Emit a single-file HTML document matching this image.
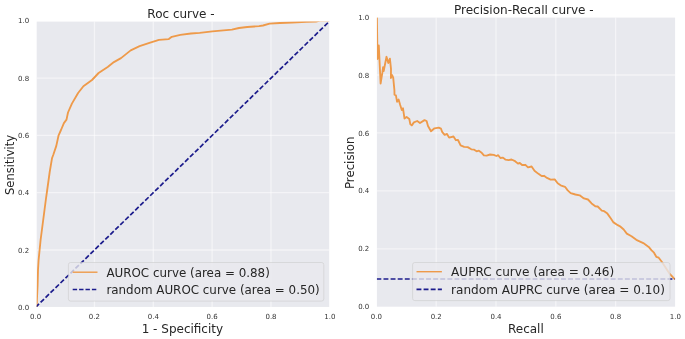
<!DOCTYPE html>
<html><head><meta charset="utf-8"><title>ROC and Precision-Recall curves</title>
<style>html,body{margin:0;padding:0;background:#fff}svg{display:block;filter:blur(0.45px)}</style></head>
<body>
<svg width="685" height="339" viewBox="0 0 685 339" font-family="'DejaVu Sans', 'Liberation Sans', sans-serif" fill="#262626">
<rect width="685" height="339" fill="#fff"/>
<defs>
<clipPath id="cl"><rect x="36.7" y="21.6" width="292.50" height="285.35"/></clipPath>
<clipPath id="cr"><rect x="376.9" y="17.6" width="298.20" height="289.10"/></clipPath>
</defs>
<rect x="36.7" y="21.6" width="292.50" height="285.35" fill="#e8e9ee"/>
<text x="35.6" y="319.2" font-size="7" fill="#333333" text-anchor="middle">0.0</text>
<text x="29.2" y="309.8" font-size="7" fill="#333333" text-anchor="end">0.0</text>
<line x1="94.44" x2="94.44" y1="21.6" y2="306.95" stroke="#fff" stroke-opacity="0.5" stroke-width="1.3"/>
<line x1="36.7" x2="329.2" y1="249.98" y2="249.98" stroke="#fff" stroke-opacity="0.5" stroke-width="1.3"/>
<text x="94.4" y="319.2" font-size="7" fill="#333333" text-anchor="middle">0.2</text>
<text x="29.2" y="252.5" font-size="7" fill="#333333" text-anchor="end">0.2</text>
<line x1="153.28" x2="153.28" y1="21.6" y2="306.95" stroke="#fff" stroke-opacity="0.5" stroke-width="1.3"/>
<line x1="36.7" x2="329.2" y1="192.71" y2="192.71" stroke="#fff" stroke-opacity="0.5" stroke-width="1.3"/>
<text x="153.3" y="319.2" font-size="7" fill="#333333" text-anchor="middle">0.4</text>
<text x="29.2" y="195.2" font-size="7" fill="#333333" text-anchor="end">0.4</text>
<line x1="212.12" x2="212.12" y1="21.6" y2="306.95" stroke="#fff" stroke-opacity="0.5" stroke-width="1.3"/>
<line x1="36.7" x2="329.2" y1="135.44" y2="135.44" stroke="#fff" stroke-opacity="0.5" stroke-width="1.3"/>
<text x="212.1" y="319.2" font-size="7" fill="#333333" text-anchor="middle">0.6</text>
<text x="29.2" y="137.9" font-size="7" fill="#333333" text-anchor="end">0.6</text>
<line x1="270.96" x2="270.96" y1="21.6" y2="306.95" stroke="#fff" stroke-opacity="0.5" stroke-width="1.3"/>
<line x1="36.7" x2="329.2" y1="78.17" y2="78.17" stroke="#fff" stroke-opacity="0.5" stroke-width="1.3"/>
<text x="271.0" y="319.2" font-size="7" fill="#333333" text-anchor="middle">0.8</text>
<text x="29.2" y="80.7" font-size="7" fill="#333333" text-anchor="end">0.8</text>
<text x="329.8" y="319.2" font-size="7" fill="#333333" text-anchor="middle">1.0</text>
<text x="29.2" y="23.4" font-size="7" fill="#333333" text-anchor="end">1.0</text>
<rect x="376.9" y="17.6" width="298.20" height="289.10" fill="#e8e9ee"/>
<text x="376.4" y="319.2" font-size="7" fill="#333333" text-anchor="middle">0.0</text>
<text x="369.3" y="309.4" font-size="7" fill="#333333" text-anchor="end">0.0</text>
<line x1="436.20" x2="436.20" y1="17.6" y2="306.7" stroke="#fff" stroke-opacity="0.5" stroke-width="1.3"/>
<line x1="376.9" x2="675.1" y1="248.92" y2="248.92" stroke="#fff" stroke-opacity="0.5" stroke-width="1.3"/>
<text x="436.2" y="319.2" font-size="7" fill="#333333" text-anchor="middle">0.2</text>
<text x="369.3" y="251.4" font-size="7" fill="#333333" text-anchor="end">0.2</text>
<line x1="496.00" x2="496.00" y1="17.6" y2="306.7" stroke="#fff" stroke-opacity="0.5" stroke-width="1.3"/>
<line x1="376.9" x2="675.1" y1="190.94" y2="190.94" stroke="#fff" stroke-opacity="0.5" stroke-width="1.3"/>
<text x="496.0" y="319.2" font-size="7" fill="#333333" text-anchor="middle">0.4</text>
<text x="369.3" y="193.4" font-size="7" fill="#333333" text-anchor="end">0.4</text>
<line x1="555.80" x2="555.80" y1="17.6" y2="306.7" stroke="#fff" stroke-opacity="0.5" stroke-width="1.3"/>
<line x1="376.9" x2="675.1" y1="132.96" y2="132.96" stroke="#fff" stroke-opacity="0.5" stroke-width="1.3"/>
<text x="555.8" y="319.2" font-size="7" fill="#333333" text-anchor="middle">0.6</text>
<text x="369.3" y="135.5" font-size="7" fill="#333333" text-anchor="end">0.6</text>
<line x1="615.60" x2="615.60" y1="17.6" y2="306.7" stroke="#fff" stroke-opacity="0.5" stroke-width="1.3"/>
<line x1="376.9" x2="675.1" y1="74.98" y2="74.98" stroke="#fff" stroke-opacity="0.5" stroke-width="1.3"/>
<text x="615.6" y="319.2" font-size="7" fill="#333333" text-anchor="middle">0.8</text>
<text x="369.3" y="77.5" font-size="7" fill="#333333" text-anchor="end">0.8</text>
<text x="675.4" y="319.2" font-size="7" fill="#333333" text-anchor="middle">1.0</text>
<text x="369.3" y="19.5" font-size="7" fill="#333333" text-anchor="end">1.0</text>
<g clip-path="url(#cl)" fill="none">
<polyline points="36.7,307.3 36.9,300.0 37.6,285.0 38.0,270.0 38.6,260.0 39.6,250.0 40.6,240.0 41.9,230.0 43.2,220.0 44.5,210.0 45.8,200.0 47.2,190.0 48.6,180.0 49.7,172.0 52.0,158.3 53.4,154.5 56.3,145.9 58.6,135.3 61.0,130.0 63.9,123.1 66.5,119.6 68.0,112.5 71.9,103.6 78.1,93.0 83.4,86.3 92.0,80.0 98.6,73.0 107.7,66.9 113.9,62.1 121.0,58.1 130.7,50.4 139.6,46.2 150.2,42.7 159.0,39.8 168.8,39.1 171.8,36.8 180.3,34.9 190.9,33.5 199.7,32.9 212.4,31.3 231.9,29.6 239.0,28.0 247.2,27.0 259.0,26.2 263.0,25.5 269.6,23.7 280.0,23.0 292.0,22.5 306.4,21.9 316.0,21.6 320.0,20.6 329.8,20.6" stroke="#ee9a4a" stroke-width="1.85" stroke-linejoin="round"/>
<line x1="35.6" y1="307.25" x2="329.8" y2="20.9" stroke="#1c1c8c" stroke-width="1.7" stroke-dasharray="4.8 2.15"/>
</g>
<g clip-path="url(#cr)" fill="none">
<polyline points="376.9,17.3 377.5,59.0 378.8,45.5 380.6,83.5 382.4,72.4 383.1,67.1 383.7,71.0 386.5,56.8 388.3,63.0 389.9,58.6 391.0,68.8 390.9,78.0 392.1,75.0 393.2,77.7 394.4,90.0 394.5,94.7 395.9,95.3 397.1,101.8 398.6,99.5 400.2,105.0 401.8,110.0 403.0,108.3 404.5,118.6 406.6,117.0 409.3,119.0 410.3,124.2 411.8,125.4 413.9,122.4 417.2,121.0 420.0,123.0 424.5,120.1 426.6,121.0 428.0,126.0 431.0,131.3 434.5,128.3 438.7,127.7 441.0,128.7 442.3,132.2 444.6,134.8 447.0,134.0 449.1,137.6 453.5,136.5 455.9,140.2 458.0,140.0 460.6,145.4 464.2,146.9 467.7,147.1 471.3,149.3 474.2,149.7 476.6,151.3 478.9,150.7 481.3,152.4 483.9,155.4 486.6,155.6 490.1,154.5 493.7,154.8 496.4,156.0 498.2,155.2 500.4,158.0 503.0,157.6 505.6,159.7 508.6,160.1 511.5,159.5 515.1,161.2 518.0,163.6 519.8,163.0 522.1,165.0 525.4,164.8 528.0,167.4 531.6,166.5 534.5,170.7 538.1,173.6 541.6,176.0 544.0,175.8 547.0,177.9 550.6,179.6 554.7,179.4 557.7,183.3 560.6,185.3 565.0,186.8 567.7,190.4 570.7,193.1 575.4,194.5 579.7,195.3 583.9,198.4 588.0,199.5 591.6,203.4 595.3,206.3 597.7,206.5 601.8,210.6 604.2,211.2 607.4,213.6 610.7,218.3 613.5,222.4 617.8,225.2 620.0,226.3 623.7,229.5 626.8,233.6 631.5,236.2 636.3,239.8 643.3,243.1 648.7,246.9 651.6,250.4 654.0,252.7 656.3,256.8 658.7,257.7 661.6,261.5 669.3,273.3 674.9,279.4" stroke="#ee9a4a" stroke-width="1.85" stroke-linejoin="round"/>
<line x1="376.4" y1="279.0" x2="675.4" y2="279.0" stroke="#1c1c8c" stroke-width="1.7" stroke-dasharray="4.9 2.2"/>
</g>
<rect x="68.4" y="262.5" width="255.4" height="38.6" rx="2.2" fill="#e8e9ee" fill-opacity="0.8" stroke="#cccccc" stroke-opacity="0.65" stroke-width="0.9"/>
<line x1="72.7" x2="97.5" y1="272.2" y2="272.2" stroke="#ee9a4a" stroke-width="1.4"/>
<line x1="72.7" x2="97.5" y1="289.5" y2="289.5" stroke="#1c1c8c" stroke-width="1.7" stroke-dasharray="4.4 2.0"/>
<text x="106.4" y="276.7" font-size="11.9">AUROC curve (area = 0.88)</text>
<text x="106.4" y="294.3" font-size="11.9">random AUROC curve (area = 0.50)</text>
<rect x="412.6" y="262.5" width="257.4" height="38.1" rx="2.2" fill="#e8e9ee" fill-opacity="0.8" stroke="#cccccc" stroke-opacity="0.65" stroke-width="0.9"/>
<line x1="416.5" x2="441.9" y1="271.7" y2="271.7" stroke="#ee9a4a" stroke-width="1.4"/>
<line x1="416.5" x2="441.9" y1="289.3" y2="289.3" stroke="#1c1c8c" stroke-width="1.7" stroke-dasharray="4.9 2.2"/>
<text x="451.05" y="276.2" font-size="12.08">AUPRC curve (area = 0.46)</text>
<text x="451.05" y="293.5" font-size="12.08">random AUPRC curve (area = 0.10)</text>
<text x="181.0" y="18.0" font-size="12" text-anchor="middle">Roc curve -</text>
<text x="523.8" y="13.8" font-size="12.05" text-anchor="middle">Precision-Recall curve -</text>
<text x="182.4" y="332.6" font-size="12" text-anchor="middle">1 - Specificity</text>
<text x="525.9" y="332.8" font-size="12" text-anchor="middle">Recall</text>
<text transform="translate(13.6,164.9) rotate(-90)" font-size="11.55" text-anchor="middle">Sensitivity</text>
<text transform="translate(353.9,162.8) rotate(-90)" font-size="11.75" text-anchor="middle">Precision</text>
</svg>
</body></html>
